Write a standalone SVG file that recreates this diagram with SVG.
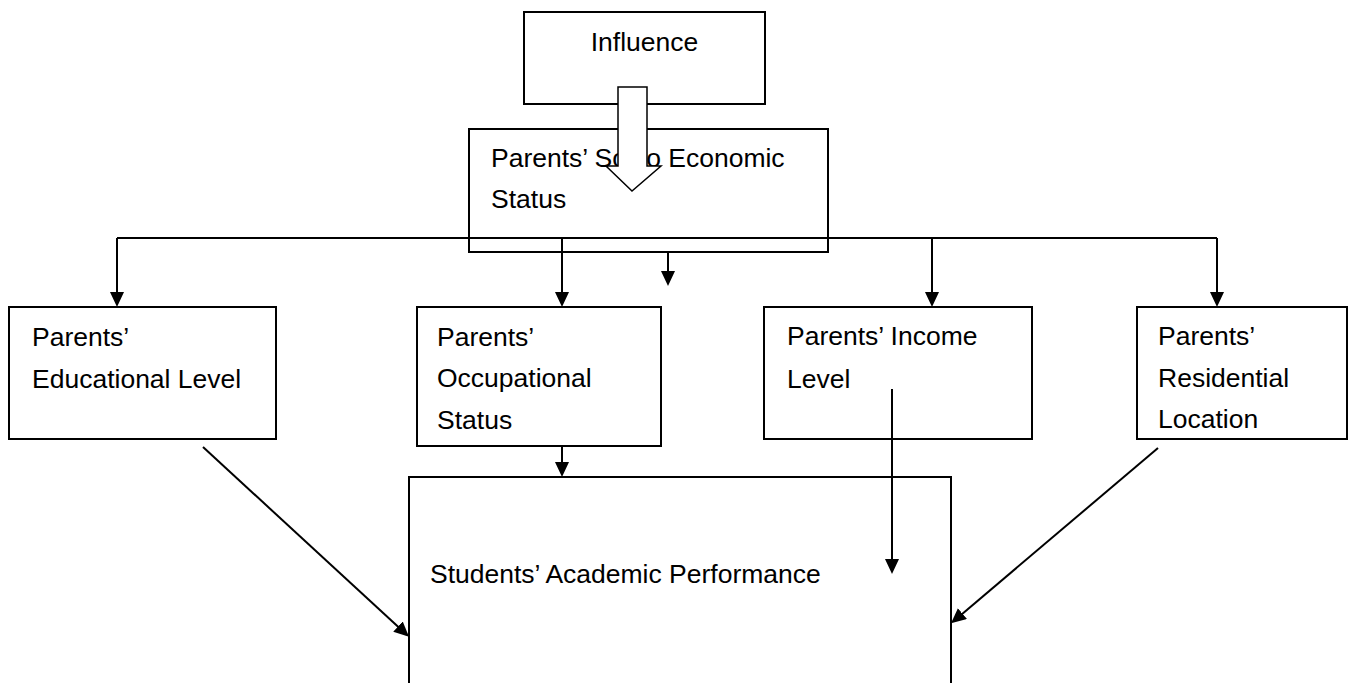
<svg xmlns="http://www.w3.org/2000/svg" width="1350" height="683" viewBox="0 0 1350 683">
<style>
.box{fill:#fff;stroke:#000;stroke-width:2}
.lbl{font-family:"Liberation Sans",Arial,sans-serif;font-size:26.5px;fill:#000}
.con{fill:none;stroke:#000;stroke-width:2}
.arr{marker-end:url(#ah)}
</style>
<defs>
<marker id="ah" markerUnits="userSpaceOnUse" markerWidth="15" markerHeight="15" refX="12" refY="7" orient="auto" viewBox="0 0 15 15">
<path d="M0,0 L15,7 L0,14 z" fill="#000"/>
</marker>
</defs>
<rect width="1350" height="683" fill="#fff"/>
<g id="influence">
<rect class="box" x="524" y="12" width="241" height="92"/>
<text class="lbl" x="644.5" y="51" text-anchor="middle">Influence</text>
</g>
<g id="ses">
<rect class="box" x="469" y="129" width="359" height="123"/>
<text class="lbl" x="491" y="167">Parents’ Socio Economic</text>
<text class="lbl" x="491" y="208">Status</text>
</g>
<g id="educational">
<rect class="box" x="9" y="307" width="267" height="132"/>
<text class="lbl" x="32" y="346">Parents’</text>
<text class="lbl" x="32" y="388">Educational Level</text>
</g>
<g id="occupational">
<rect class="box" x="417" y="307" width="244" height="139"/>
<text class="lbl" x="437" y="346">Parents’</text>
<text class="lbl" x="437" y="387">Occupational</text>
<text class="lbl" x="437" y="429">Status</text>
</g>
<g id="income">
<rect class="box" x="764" y="307" width="268" height="132"/>
<text class="lbl" x="787" y="345">Parents’ Income</text>
<text class="lbl" x="787" y="388">Level</text>
</g>
<g id="residential">
<rect class="box" x="1137" y="307" width="210" height="132"/>
<text class="lbl" x="1158" y="345">Parents’</text>
<text class="lbl" x="1158" y="387">Residential</text>
<text class="lbl" x="1158" y="428">Location</text>
</g>
<g id="students">
<rect class="box" x="409" y="477" width="542" height="230"/>
<text class="lbl" x="430" y="583">Students’ Academic Performance</text>
</g>
<g id="connectors">
<path class="con" d="M117,238 H1217"/>
<path class="con arr" d="M117,238 V304"/>
<path class="con arr" d="M562,238 V304"/>
<path class="con arr" d="M932,238 V304"/>
<path class="con arr" d="M1217,238 V304"/>
<path class="con arr" d="M668,252 V283"/>
<path class="con arr" d="M562,446 V474"/>
<path class="con arr" d="M892,389 V571"/>
<path class="con arr" d="M203,447 L406.8,634.7"/>
<path class="con arr" d="M1158,448 L953.3,621.4"/>
<polygon id="influence-arrow" points="618,87 647,87 647,166 661,166 632,191 606,166 618,166" fill="#fff" stroke="#000" stroke-width="1.5"/>
</g>
</svg>
